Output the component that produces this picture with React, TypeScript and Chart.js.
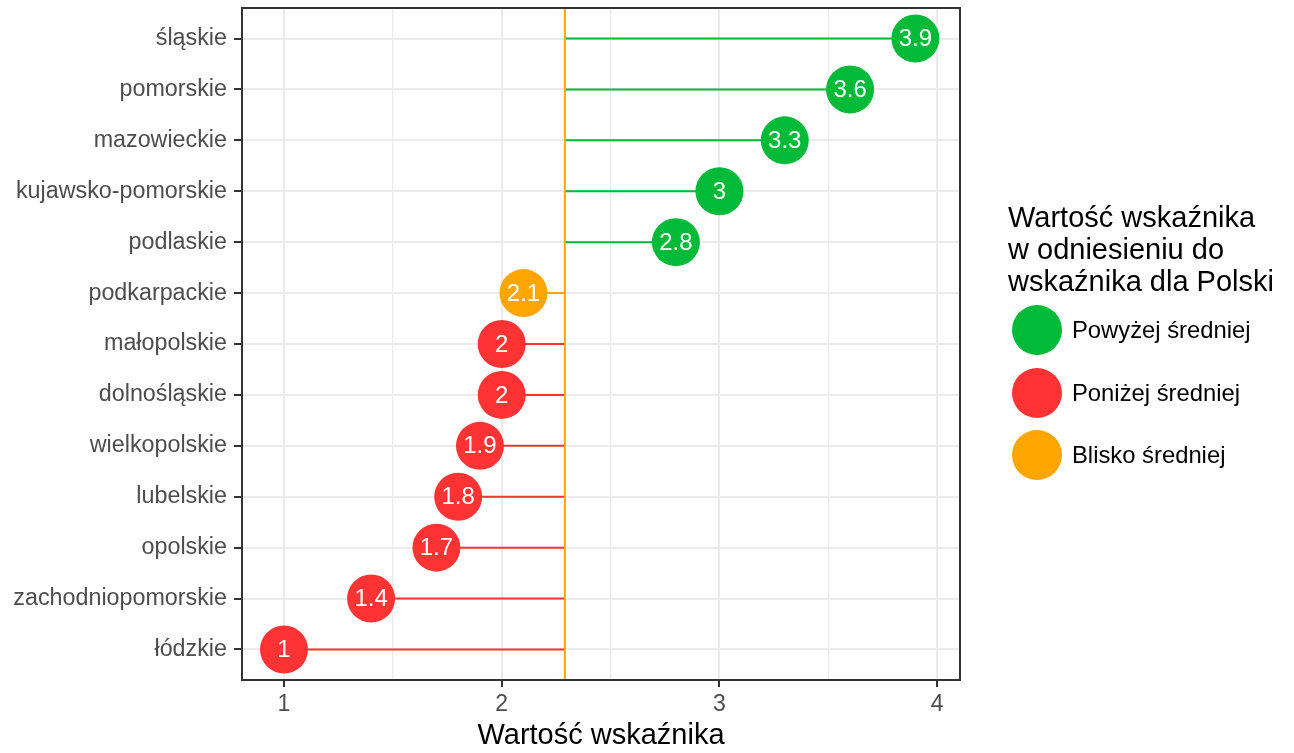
import React, { useEffect, useRef } from "react";
import { Chart, registerables } from "chart.js";

Chart.register(...registerables);

const CATEGORIES = [
  "śląskie",
  "pomorskie",
  "mazowieckie",
  "kujawsko-pomorskie",
  "podlaskie",
  "podkarpackie",
  "małopolskie",
  "dolnośląskie",
  "wielkopolskie",
  "lubelskie",
  "opolskie",
  "zachodniopomorskie",
  "łódzkie",
];
const VALUES = [3.9, 3.6, 3.3, 3, 2.8, 2.1, 2, 2, 1.9, 1.8, 1.7, 1.4, 1];
const GROUPS = [
  "above", "above", "above", "above", "above",
  "near",
  "below", "below", "below", "below", "below", "below", "below",
];
const MEAN = 2.29;
const X_TICKS = [1, 1.5, 2, 2.5, 3, 3.5, 4];
const GROUP_KEYS = ["above", "below", "near"];
const GROUP_LABELS = ["Powyżej średniej", "Poniżej średniej", "Blisko średniej"];
const GROUP_COLORS: Record<string, string> = {
  above: "#00BA38",
  below: "#FF3333",
  near: "#FFA500",
};
const LEGEND_TITLE = ["Wartość wskaźnika", "w odniesieniu do", "wskaźnika dla Polski"];
const X_TITLE = "Wartość wskaźnika";

const FONT = "'Liberation Sans', Arial, Helvetica, sans-serif";

export default function App() {
  const ref = useRef<HTMLCanvasElement | null>(null);

  useEffect(() => {
    if (!ref.current) return;

    const pointColors = GROUPS.map((g) => GROUP_COLORS[g]);

    const segmentDatasets = VALUES.map((v, i) => ({
      type: "line" as const,
      data: [
        { x: MEAN, y: i },
        { x: v, y: i },
      ],
      borderColor: GROUP_COLORS[GROUPS[i]],
      borderWidth: 2,
      pointRadius: 0,
      pointHoverRadius: 0,
      showLine: true,
      order: 3,
    }));

    const labelPlugin = {
      id: "valueLabels",
      afterDatasetsDraw(chart: any) {
        const meta = chart.getDatasetMeta(0);
        const ctx = chart.ctx;
        ctx.save();
        ctx.fillStyle = "#FFFFFF";
        ctx.font = `24px ${FONT}`;
        ctx.textAlign = "center";
        ctx.textBaseline = "middle";
        meta.data.forEach((el: any, i: number) => {
          ctx.fillText(String(VALUES[i]), el.x, el.y + 1);
        });
        ctx.restore();
      },
      afterDraw(chart: any) {
        const { ctx, chartArea } = chart;
        ctx.save();
        ctx.strokeStyle = "#333333";
        ctx.lineWidth = 2;
        ctx.strokeRect(
          chartArea.left,
          chartArea.top,
          chartArea.right - chartArea.left,
          chartArea.bottom - chartArea.top
        );
        ctx.restore();
      },
    };

    const chart = new Chart(ref.current, {
      type: "scatter",
      data: {
        datasets: [
          {
            type: "scatter" as const,
            data: VALUES.map((v, i) => ({ x: v, y: i })),
            pointRadius: 24,
            pointHoverRadius: 24,
            pointBackgroundColor: pointColors,
            pointBorderWidth: 0,
            borderWidth: 0,
            order: 0,
          },
          {
            type: "line" as const,
            data: [
              { x: MEAN, y: -0.6 },
              { x: MEAN, y: 12.6 },
            ],
            borderColor: "#FFA500",
            borderWidth: 2,
            pointRadius: 0,
            pointHoverRadius: 0,
            order: 2,
          },
          ...segmentDatasets,
        ] as any,
      },
      options: {
        animation: false,
        responsive: false,
        devicePixelRatio: 1,
        layout: { autoPadding: false, padding: { top: 8, right: 334, left: 0, bottom: 0 } },
        plugins: {
          legend: { display: false },
          tooltip: { enabled: false },
        },
        events: [],
        scales: {
          x: {
            type: "linear",
            min: 0.807,
            max: 4.105,
            afterBuildTicks: (axis: any) => {
              axis.ticks = X_TICKS.map((v) => ({ value: v }));
            },
            afterFit: (s: any) => {
              s.height = 73;
              s.paddingLeft = 0;
              s.paddingRight = 0;
            },
            ticks: {
              callback: (v: any) => (Number.isInteger(v) ? String(v) : ""),
              color: "#4D4D4D",
              font: { family: FONT, size: 23 },
              padding: 4,
              maxRotation: 0,
              autoSkip: false,
            },
            grid: {
              color: "#EBEBEB",
              lineWidth: (c: any) =>
                c.tick && Number.isInteger(c.tick.value) ? 2 : 1.2,
              tickColor: (c: any) =>
                c.tick && Number.isInteger(c.tick.value) ? "#333333" : "rgba(0,0,0,0)",
              tickLength: 7,
              tickWidth: 2,
            },
            border: { color: "#333333", width: 2 },
            title: {
              display: true,
              text: X_TITLE,
              color: "#000000",
              font: { family: FONT, size: 29 },
              padding: { top: 6, bottom: 0 },
            },
          },
          y: {
            type: "linear",
            reverse: true,
            min: -0.6,
            max: 12.6,
            afterBuildTicks: (axis: any) => {
              axis.ticks = CATEGORIES.map((_, i) => ({ value: i }));
            },
            afterFit: (s: any) => {
              s.width = 242;
              s.paddingTop = 0;
              s.paddingBottom = 0;
            },
            ticks: {
              callback: (v: any) => CATEGORIES[v as number] ?? "",
              color: "#4D4D4D",
              font: { family: FONT, size: 23.3 },
              padding: 7,
              autoSkip: false,
            },
            grid: {
              color: "#EBEBEB",
              lineWidth: 2,
              tickColor: "#333333",
              tickLength: 8,
              tickWidth: 2,
            },
            border: { color: "#333333", width: 2 },
          },
        },
      } as any,
      plugins: [labelPlugin],
    });

    return () => chart.destroy();
  }, []);

  return (
    <div
      style={{
        position: "fixed",
        left: 0,
        top: 0,
        width: 1294,
        height: 753,
        background: "#FFFFFF",
        fontFamily: FONT,
      }}
    >
      <canvas ref={ref} width={1294} height={753} style={{ position: "absolute", left: 0, top: 0 }} />
      <div
        style={{
          position: "absolute",
          left: 1008,
          top: 201,
          fontSize: 29,
          lineHeight: "32px",
          color: "#000000",
          whiteSpace: "nowrap",
        }}
      >
        {LEGEND_TITLE.map((t, i) => (
          <div key={i}>{t}</div>
        ))}
      </div>
      {GROUP_KEYS.map((g, i) => (
        <div
          key={g}
          style={{
            position: "absolute",
            left: 1012,
            top: 305 + i * 62.5,
            height: 50,
            display: "flex",
            alignItems: "center",
            whiteSpace: "nowrap",
          }}
        >
          <div
            style={{
              width: 50,
              height: 50,
              borderRadius: "50%",
              background: GROUP_COLORS[g],
            }}
          />
          <div style={{ marginLeft: 10, fontSize: 23.8, color: "#000000" }}>{GROUP_LABELS[i]}</div>
        </div>
      ))}
    </div>
  );
}
